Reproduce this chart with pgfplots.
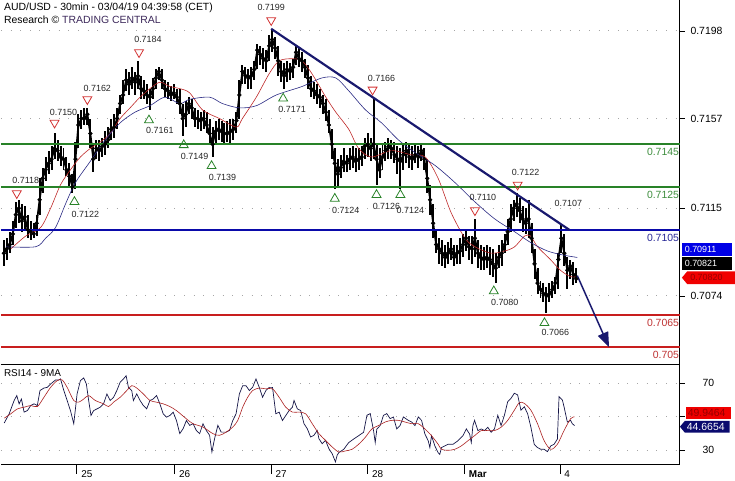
\documentclass[border=0pt]{standalone}
\usepackage{fontspec}
\setmainfont{Liberation Sans}
\usepackage{pgfplots}
\usepackage{pgfplotstable}
\pgfplotsset{compat=1.18}
\usetikzlibrary{arrows.meta,shapes.symbols}

\definecolor{gline}{RGB}{40,130,40}
\definecolor{gtext}{RGB}{60,140,60}
\definecolor{bline}{RGB}{10,10,170}
\definecolor{btext}{RGB}{40,40,150}
\definecolor{rline}{RGB}{200,30,30}
\definecolor{rtext}{RGB}{190,50,50}
\definecolor{trend}{RGB}{25,25,110}
\definecolor{mared}{RGB}{190,40,40}
\definecolor{manavy}{RGB}{40,40,130}
\definecolor{rsinavy}{RGB}{20,20,70}
\definecolor{rsired}{RGB}{170,30,30}
\definecolor{trired}{RGB}{210,50,50}
\definecolor{trigreen}{RGB}{40,130,40}
\definecolor{tcpurple}{RGB}{60,40,90}
\definecolor{boxblue}{RGB}{0,0,230}
\definecolor{boxnavy}{RGB}{10,10,110}
\definecolor{boxred}{RGB}{240,0,0}
\definecolor{boxredtext}{RGB}{150,0,0}

\newcommand{\lbl}{\fontsize{9}{10}\selectfont}
\newcommand{\tck}{\fontsize{10.5}{12}\selectfont}
\newcommand{\bxf}{\fontsize{9}{10}\selectfont}

\pgfplotstableread{
k c h l
1 .7094 .7100 .7088
2 .7096 .7101 .7091
3 .7098 .7104 .7094
4 .7103 .7109 .7098
5 .7112 .7118 .7106
6 .7115 .7119 .7108
7 .7109 .7117 .7104
8 .7111 .7116 .7105
9 .7105 .7112 .7101
10 .7104 .7109 .7100
11 .7103 .7108 .7101
12 .7108 .7112 .7102
13 .7119 .7129 .7112
14 .7129 .7134 .7122
15 .7133 .7139 .7128
16 .7136 .7142 .7131
17 .7138 .7144 .7133
18 .7143 .7150 .7138
19 .7142 .7147 .7137
20 .7139 .7144 .7135
21 .7138 .7143 .7133
22 .7133 .7139 .7130
23 .7130 .7136 .7125
24 .7125 .7131 .7122
25 .7138 .7146 .7124
26 .7154 .7159 .7143
27 .7157 .7161 .7152
28 .7157 .7162 .7154
29 .7159 .7162 .7154
30 .7150 .7157 .7143
31 .7138 .7145 .7132
32 .7143 .7147 .7138
33 .7142 .7147 .7137
34 .7144 .7148 .7139
35 .7145 .7151 .7140
36 .7147 .7153 .7143
37 .7152 .7157 .7147
38 .7153 .7159 .7148
39 .7157 .7162 .7152
40 .7164 .7168 .7159
41 .7168 .7175 .7164
42 .7175 .7180 .7170
43 .7173 .7179 .7168
44 .7176 .7181 .7171
45 .7174 .7179 .7168
46 .7177 .7184 .7171
47 .7171 .7177 .7166
48 .7170 .7175 .7166
49 .7168 .7173 .7164
50 .7167 .7171 .7161
51 .7171 .7176 .7166
52 .7176 .7180 .7171
53 .7179 .7181 .7175
54 .7175 .7180 .7171
55 .7171 .7175 .7167
56 .7170 .7174 .7166
57 .7168 .7172 .7165
58 .7169 .7173 .7166
59 .7167 .7171 .7164
60 .7164 .7171 .7159
61 .7157 .7164 .7149
62 .7159 .7165 .7153
63 .7164 .7167 .7159
64 .7162 .7166 .7157
65 .7157 .7162 .7153
66 .7157 .7161 .7152
67 .7156 .7160 .7151
68 .7157 .7161 .7152
69 .7154 .7160 .7150
70 .7150 .7157 .7145
71 .7145 .7153 .7139
72 .7151 .7156 .7145
73 .7152 .7157 .7147
74 .7151 .7156 .7146
75 .7150 .7155 .7145
76 .7150 .7156 .7146
77 .7151 .7157 .7145
78 .7152 .7157 .7147
79 .7156 .7160 .7150
80 .7168 .7175 .7157
81 .7179 .7182 .7173
82 .7177 .7181 .7173
83 .7176 .7180 .7171
84 .7177 .7181 .7171
85 .7180 .7184 .7175
86 .7189 .7192 .7180
87 .7187 .7191 .7182
88 .7185 .7190 .7180
89 .7184 .7189 .7179
90 .7191 .7196 .7184
91 .7194 .7199 .7188
92 .7190 .7195 .7185
93 .7184 .7191 .7177
94 .7179 .7184 .7174
95 .7177 .7183 .7171
96 .7180 .7184 .7174
97 .7179 .7183 .7175
98 .7181 .7185 .7176
99 .7188 .7191 .7182
100 .7185 .7190 .7181
101 .7184 .7188 .7179
102 .7181 .7185 .7176
103 .7176 .7182 .7171
104 .7171 .7177 .7167
105 .7170 .7174 .7166
106 .7168 .7173 .7164
107 .7167 .7171 .7162
108 .7164 .7168 .7159
109 .7160 .7166 .7156
110 .7154 .7161 .7150
111 .7145 .7152 .7138
112 .7136 .7143 .7124
113 .7131 .7138 .7125
114 .7134 .7140 .7129
115 .7137 .7143 .7132
116 .7136 .7140 .7132
117 .7138 .7143 .7133
118 .7139 .7144 .7134
119 .7137 .7143 .7132
120 .7138 .7143 .7133
121 .7139 .7144 .7135
122 .7144 .7148 .7138
123 .7145 .7150 .7139
124 .7143 .7148 .7137
125 .7145 .7166 .7138
126 .7138 .7145 .7126
127 .7133 .7143 .7129
128 .7139 .7145 .7133
129 .7142 .7146 .7137
130 .7144 .7148 .7138
131 .7143 .7147 .7138
132 .7140 .7146 .7136
133 .7138 .7144 .7131
134 .7137 .7143 .7124
135 .7140 .7145 .7133
136 .7142 .7146 .7136
137 .7139 .7145 .7134
138 .7138 .7144 .7133
139 .7140 .7145 .7136
140 .7139 .7144 .7134
141 .7142 .7145 .7137
142 .7138 .7143 .7133
143 .7129 .7138 .7122
144 .7119 .7126 .7112
145 .7108 .7117 .7101
146 .7098 .7105 .7094
147 .7096 .7101 .7089
148 .7094 .7100 .7088
149 .7092 .7098 .7087
150 .7094 .7099 .7089
151 .7096 .7101 .7091
152 .7092 .7098 .7088
153 .7094 .7098 .7089
154 .7095 .7101 .7089
155 .7098 .7103 .7092
156 .7101 .7105 .7095
157 .7097 .7102 .7091
158 .7096 .7102 .7089
159 .7101 .7110 .7092
160 .7094 .7100 .7087
161 .7092 .7098 .7086
162 .7091 .7097 .7086
163 .7092 .7098 .7087
164 .7091 .7097 .7084
165 .7089 .7096 .7083
166 .7087 .7094 .7080
167 .7092 .7098 .7087
168 .7094 .7100 .7088
169 .7098 .7103 .7094
170 .7104 .7110 .7098
171 .7110 .7117 .7104
172 .7115 .7119 .7109
173 .7117 .7122 .7111
174 .7114 .7120 .7108
175 .7110 .7116 .7104
176 .7108 .7115 .7103
177 .7110 .7119 .7101
178 .7101 .7108 .7094
179 .7089 .7096 .7082
180 .7080 .7087 .7075
181 .7077 .7081 .7073
182 .7075 .7080 .7071
183 .7074 .7078 .7066
184 .7075 .7080 .7071
185 .7077 .7081 .7073
186 .7080 .7083 .7075
187 .7091 .7094 .7077
188 .7101 .7107 .7094
189 .7094 .7103 .7088
190 .7086 .7092 .7077
191 .7088 .7091 .7082
192 .7084 .7090 .7079
193 .7082 .7087 .7080
}\ohlc

\begin{document}
\begin{tikzpicture}

% ---------------- RSI panel ----------------
\begin{axis}[
  name=rsi,
  at={(0pt,12.7pt)}, anchor=south west,
  width=683pt, height=100.6pt, scale only axis,
  xmin=0, xmax=227.67, ymin=21.4, ymax=80.8,
  clip=false,
  axis line style={draw=none},
  xtick={25.47,58.3,90.6,123.0,155.5,187.5},
  xticklabels={25,26,27,28,\textbf{Mar},4},
  xtick pos=left, ytick pos=right, yticklabel pos=right,
  tick align=outside, major tick length=9pt,
  tick style={black, line width=0.7pt},
  /pgf/number format/assume math mode=true,
  xticklabel style={font=\fontsize{10}{12}\selectfont, anchor=west, xshift=1pt, yshift=0pt},
  ytick=\empty,
  extra y ticks={30,50,70},
  extra y tick labels={30,,70},
  extra y tick style={major tick length=5pt, grid=major,
     yticklabel style={font=\tck, anchor=center, xshift=24pt}},
  major grid style={black!35, line width=0.9pt, dash pattern=on 0.9pt off 8.8pt},
]
\draw[black, line width=0.8pt] (rel axis cs:0,1) -- (rel axis cs:1,1) -- (rel axis cs:1,0) -- (rel axis cs:0,0);
\node[anchor=west, font=\fontsize{10}{12}\selectfont, inner sep=0pt] at (axis cs:1,75.6) {RSI14 - 9MA};

\addplot[rsinavy, line width=0.7pt] coordinates {
(1.11,46.2)(2.78,51.7)(4.44,59.6)(5.33,62.5)(6.11,57.6)(6.89,60.5)(7.78,52.7)(8.89,53.6)(10,56.6)
(11.11,57.6)(12.22,56.6)(13.11,65.5)(14.44,67.0)(15.56,67.4)(16.67,69.4)(18.33,71.8)(19.44,71.8)(20,72.4)
(21.11,65.5)(22.22,59.6)(23.33,53.6)(24.44,45.8)(25.56,63.5)(26.67,71.4)(27.78,73.0)(28.67,69.4)(29.44,59.6)
(30.22,50.7)(31.11,53.6)(32.22,54.6)(33.33,55.6)(34.44,57.6)(35.56,63.5)(36.67,59.6)(37.78,61.5)(38.89,65.5)
(40,70.4)(41.11,72.4)(42,74.3)(42.78,67.4)(43.89,65.5)(44.44,59.6)(45.56,63.5)(46.67,59.6)(47.78,56.6)
(48.89,54.6)(50,59.6)(51.11,60.5)(52.22,62.5)(53.33,57.6)(54.44,51.7)(55.56,49.7)(56.67,50.7)(57.78,52.7)
(58.89,47.7)(60,39.9)(61.11,42.8)(62.22,47.7)(63.33,44.8)(64.44,45.8)(65.56,41.8)(66.67,39.9)(67.78,45.8)
(68.89,41.8)(70,38.9)(70.78,29.0)(71.67,36.9)(72.78,44.8)(73.89,40.8)(75.56,40.8)(76.67,41.8)(77.78,47.7)
(78.89,51.7)(80,63.5)(81.11,68.4)(82.22,68.4)(83.33,65.5)(84.44,67.4)(85.56,72.4)(86.67,67.4)(87.78,61.5)
(88.89,65.5)(90,67.4)(91.11,67.4)(92.22,51.7)(93.33,52.7)(94.44,47.7)(95.56,50.7)(96.67,53.6)(97.78,55.6)
(98.33,59.6)(99.44,54.6)(100.56,53.6)(101.67,45.8)(102.78,42.8)(103.89,37.9)(105,38.9)(106.11,41.8)
(106.67,36.9)(107.78,33.9)(108.89,35.9)(110,31.0)(111.11,28.0)(112.22,23.1)(112.78,27.0)
(113.33,28.6)(115,30.6)(116.67,34.6)(118.33,36.7)(120,38.7)(121.67,40.7)(122.78,50.8)(123.89,51.8)
(125,41.7)(125.56,34.6)(126.11,42.7)(127.22,44.7)(128.33,50.8)(129.44,51.8)(130.56,48.8)(131.67,49.8)
(132.78,42.7)(133.89,44.7)(135,49.8)(136.67,47.8)(137.78,46.8)(138.89,44.7)(140,49.8)(141.11,47.8)
(142.22,39.7)(143.33,35.7)(143.89,31.6)(144.44,38.7)(145.56,32.6)(146.67,28.6)(147.22,27.6)(147.78,31.6)
(148.89,32.6)(150,33.6)(151.67,33.6)(153.33,35.7)(155,38.7)(156.11,42.7)(157.22,39.7)(157.78,34.6)
(158.33,44.7)(158.89,47.8)(160,41.7)(161.11,42.7)(162.22,41.7)(163.33,43.7)(164.44,40.7)(165.56,42.7)
(166.67,50.8)(167.78,44.7)(168.89,50.8)(170,58.9)(171.11,60.9)(172.22,63.9)(173.33,62.9)(174.44,53.8)
(175.56,55.9)(176.67,51.8)(177.78,43.7)(178.89,33.6)(180,31.6)(181.11,30.6)(182.22,30.6)(183.33,29.2)
(184.44,32.6)(185.56,33.6)(186.67,36.7)(187.22,61.9)(188.33,59.9)(188.89,55.9)(190,46.8)(191.11,47.8)
(191.67,45.8)(192.44,44.7)};

\addplot[rsired, line width=0.6pt, smooth] coordinates {
(1.11,49.1)(3.33,51.7)(5.56,54.6)(7.78,55.6)(10,56.6)(12.22,56.0)(14.44,61.5)(16.67,67.4)(18.89,71.4)
(20.56,71.8)(22.22,67.4)(24.44,59.6)(26.11,58.6)(27.78,60.5)(29.44,62.5)(31.67,59.6)(34.44,57.6)(36.11,56.0)
(37.78,58.6)(40,61.5)(42.22,65.5)(43.89,68.4)(45.56,67.0)(47.78,63.5)(50,59.6)(52.22,58.6)(54.44,57.6)
(56.67,56.0)(58.89,53.6)(62.22,48.7)(64.44,45.8)(67.78,43.8)(71.11,39.9)(73.33,38.9)(75.56,40.8)(77.78,43.8)
(79.44,47.7)(81.11,55.6)(82.78,61.5)(84.44,65.5)(86.67,67.0)(88.89,66.5)(91.11,66.5)(93.33,61.5)(95.56,55.6)
(97.78,52.7)(100,52.7)(102.22,51.7)(104.44,45.8)(106.67,39.9)(108.89,35.9)(111.11,32.0)(113.33,29.0)
(115.5,29.6)(117.78,30.6)(120,33.6)(122.22,37.7)(124.44,42.7)(126.67,44.7)(128.89,46.8)(131.11,47.8)
(133.33,47.8)(135.56,46.8)(137.78,45.8)(140,45.8)(142.22,42.7)(144.44,38.7)(146.67,33.6)(147.78,30.6)
(150,30.0)(152.22,30.6)(154.44,32.6)(156.67,35.7)(158.89,38.7)(161.11,41.7)(163.33,41.7)(165.56,41.7)
(167.78,43.7)(170,47.8)(172.22,53.8)(173.89,58.3)(175.56,57.9)(177.78,53.8)(180,45.8)(182.22,35.7)
(184.44,30.6)(186.67,33.6)(188.89,41.7)(191.11,48.8)(192.44,49.9)};

\node[anchor=west, fill=boxred, text=boxredtext, font=\tck, minimum height=12pt, text width=41pt, inner xsep=2pt, inner ysep=0pt] at ([xshift=6pt]axis cs:227.67,52.3) {49.9464};
\node[anchor=west, signal, signal to=west, signal pointer angle=100, fill=boxnavy, text=white, font=\tck, minimum height=12pt, text width=41pt, inner xsep=2pt, inner ysep=0pt] at ([xshift=0pt]axis cs:227.67,44.0) {44.6654};
\end{axis}

% ---------------- main price panel ----------------
\begin{axis}[
  at={(rsi.north west)}, anchor=south west,
  width=683pt, height=366.7pt, scale only axis,
  xmin=0, xmax=227.67, ymin=0.704174, ymax=0.72123,
  clip=false,
  axis line style={draw=none},
  xtick=\empty,
  ytick={0.7074,0.7115,0.7157,0.7198},
  yticklabels={0.7074,0.7115,0.7157,0.7198},
  ytick pos=right, yticklabel pos=right,
  tick align=outside, major tick length=5pt,
  tick style={black, line width=0.7pt},
  /pgf/number format/assume math mode=true,
  yticklabel style={font=\tck, anchor=center, xshift=22pt},
  ymajorgrids,
  major grid style={black!35, line width=0.9pt, dash pattern=on 0.9pt off 8.8pt},
]
\draw[black, line width=0.8pt] (rel axis cs:0,0) -- (rel axis cs:1,0) -- (rel axis cs:1,1);
% candles: high-low wicks and closes
\addplot[black, only marks, mark=none, forget plot,
  error bars/.cd, y dir=both, y explicit, error mark=none,
  error bar style={draw=black, solid, line width=2pt}]
  table[x=k, y=c, y error plus expr=\thisrow{h}-\thisrow{c}, y error minus expr=\thisrow{c}-\thisrow{l}] {\ohlc};
\addplot[black, line width=1.8pt, mark=none] table[x=k, y=c] {\ohlc};

% moving averages
\addplot[mared, line width=0.6pt, smooth] coordinates {
(3.33,.7096)(8.33,.7102)(13.33,.7106)(16.67,.7115)(20,.7126)(23.33,.7133)(26.67,.7139)(30,.7143)
(33.33,.7146)(36.67,.7150)(40,.7157)(43.33,.7162)(46.67,.7167)(50,.7171)(53.33,.7174)(56.67,.7172)
(60,.7171)(63.33,.7169)(67.67,.7161)(73.33,.7157)(79,.7153)(81,.7157)(85.67,.7167)(90,.7178)
(93.33,.7184)(97.67,.7185)(101,.7184)(104.33,.7178)(109,.7167)(112.33,.7160)(116.67,.7152)(120,.7143)
(124.33,.7139)(131,.7142)(137.67,.7140)(142.33,.7139)(146.67,.7129)(151,.7113)(155.67,.7101)(159,.7097)
(164.33,.7094)(169,.7095)(172.33,.7097)(175.67,.7102)(177.67,.7102)(180,.7097)(184.33,.7091)(187.67,.7086)
(191,.7083)(192.67,.7083)};
\addplot[manavy, line width=0.6pt, smooth] coordinates {
(1.67,.7097)(11.67,.7097)(15,.7101)(18.33,.7106)(21.67,.7117)(25,.7127)(30,.7137)(35,.7147)
(40,.7155)(45,.7160)(50,.7163)(55,.7167)(60,.7164)(63.33,.7166)(70,.7167)(74.33,.7164)
(80,.7162)(85.67,.7163)(92.33,.7168)(101,.7172)(107.67,.7176)(112.33,.7176)(116.67,.7170)(122.33,.7161)
(127.67,.7155)(133.33,.7147)(139,.7141)(145.67,.7135)(152.33,.7127)(159,.7118)(165.67,.7110)(172.33,.7104)
(177.67,.7099)(183.33,.7095)(189,.7093)(193.33,.7092)};

% support / resistance levels
\addplot[gline, line width=1.8pt] coordinates {(0,0.7145) (227.67,0.7145)};
\addplot[gline, line width=1.8pt] coordinates {(0,0.7125) (227.67,0.7125)};
\addplot[bline, line width=1.8pt] coordinates {(0,0.7105) (227.67,0.7105)};
\addplot[rline, line width=1.6pt] coordinates {(0,0.7065) (227.67,0.7065)};
\addplot[rline, line width=1.6pt] coordinates {(0,0.7050) (227.67,0.7050)};

% trend line and projection arrow
\addplot[trend, line width=2.2pt] coordinates {(90.67,0.7199) (190.67,0.71049)};
\addplot[trend, line width=1.5pt, -{Triangle[length=15pt,width=11pt]}] coordinates {(193.33,0.70835) (204,0.70500)};

% pivot markers
\addplot[trired, only marks, mark=triangle, mark size=5.2pt, mark options={line width=0.8pt, rotate=180}] coordinates {
(5.33,0.7122)(18,0.7155)(29,0.7166)(46.33,0.7188)(90.67,0.7203)(124.67,0.71705)(159,0.7114)(173.33,0.7126)};
\addplot[trigreen, only marks, mark=triangle, mark size=5.2pt, mark options={line width=0.8pt}] coordinates {
(24.67,0.71180)(49.67,0.71562)(61.33,0.71446)(70.67,0.71348)(94.67,0.71664)(112,0.71195)(126,0.71213)(134,0.71213)(165.33,0.70762)(182.33,0.70613)};

\begin{scope}[every node/.style={font=\lbl, text=black!85, inner sep=0pt}]
\node at (axis cs:8.33,0.7128) {0.7118};
\node at (axis cs:21,0.7160) {0.7150};
\node at (axis cs:32.33,0.7171) {0.7162};
\node at (axis cs:49.33,0.7194) {0.7184};
\node at (axis cs:90.67,0.7209) {0.7199};
\node at (axis cs:127.67,0.7176) {0.7166};
\node at (axis cs:161.67,0.7120) {0.7110};
\node at (axis cs:176,0.7132) {0.7122};
\node at (axis cs:190.33,0.71175) {0.7107};
\node at (axis cs:28.33,0.71123) {0.7122};
\node at (axis cs:53.33,0.71514) {0.7161};
\node at (axis cs:65,0.71393) {0.7149};
\node at (axis cs:74.33,0.71295) {0.7139};
\node at (axis cs:97.67,0.71611) {0.7171};
\node at (axis cs:115.67,0.71142) {0.7124};
\node at (axis cs:129.33,0.71160) {0.7126};
\node at (axis cs:137.33,0.71142) {0.7124};
\node at (axis cs:169,0.70709) {0.7080};
\node at (axis cs:186,0.70570) {0.7066};
\end{scope}

% level labels
\begin{scope}[every node/.style={font=\tck, anchor=east, inner sep=0.5pt}]
\node[text=gtext] at ([yshift=-8pt]axis cs:227.67,0.7145) {0.7145};
\node[text=gtext] at ([yshift=-8pt]axis cs:227.67,0.7125) {0.7125};
\node[text=btext] at ([yshift=-8pt]axis cs:227.67,0.7105) {0.7105};
\node[text=rtext] at ([yshift=-7.5pt]axis cs:227.67,0.7065) {0.7065};
\node[text=rtext] at ([yshift=-7.5pt]axis cs:227.67,0.7050) {0.705};
\end{scope}

% current value boxes
\node[anchor=west, fill=boxblue, text=white, font=\bxf, minimum height=13pt, text width=44pt, inner xsep=3pt, inner ysep=0pt] at ([xshift=2pt]axis cs:227.67,0.70956) {0.70911};
\node[anchor=west, fill=black, text=white, font=\bxf, minimum height=13pt, text width=44pt, inner xsep=3pt, inner ysep=0pt] at ([xshift=2pt]axis cs:227.67,0.70892) {0.70821};
\node[anchor=west, signal, signal to=west, signal pointer angle=100, fill=boxred, text=boxredtext, font=\bxf, minimum height=13pt, text width=42pt, inner xsep=3pt, inner ysep=0pt] at ([xshift=2pt]axis cs:227.67,0.70825) {0.70820};

% titles
\node[anchor=west, font=\tck, inner sep=0pt] at ([xshift=3pt,yshift=-7pt]rel axis cs:0,1) {AUD/USD - 30min - 03/04/19 04:39:58 (CET)};
\node[anchor=west, font=\tck, inner sep=0pt] at ([xshift=3pt,yshift=-20pt]rel axis cs:0,1) {Research \textcopyright{} \textcolor{tcpurple}{TRADING CENTRAL}};
\end{axis}
\end{tikzpicture}
\end{document}
